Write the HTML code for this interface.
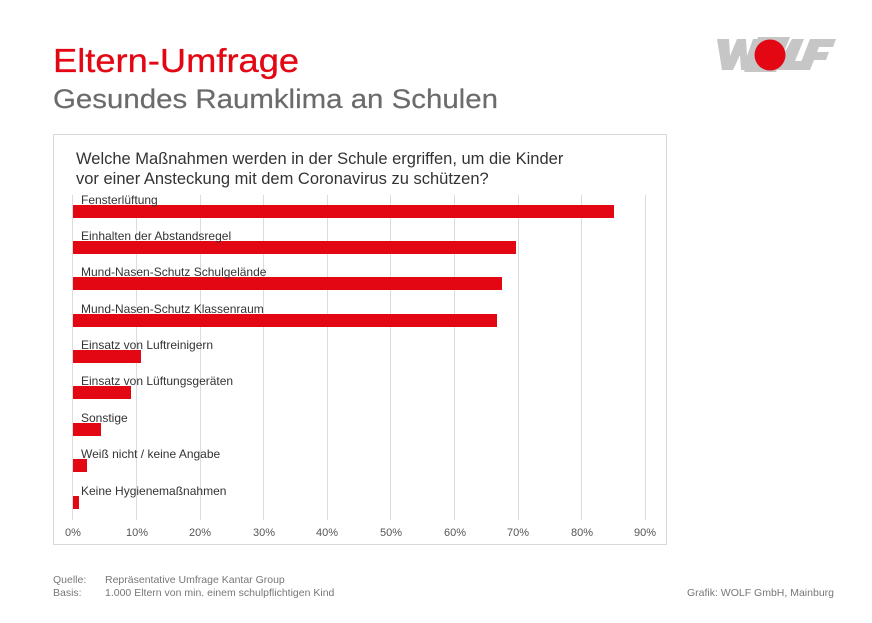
<!DOCTYPE html>
<html><head><meta charset="utf-8"><style>
body{margin:0;width:872px;height:623px;background:#fff;position:relative;overflow:hidden;font-family:"Liberation Sans",sans-serif}
.a{position:absolute;white-space:nowrap}
</style></head><body>
<div class="a" style="left:53px;top:42px;font-size:33px;color:#e30613;transform:scaleX(1.1);transform-origin:0 0;-webkit-text-stroke:0.3px #e30613">Eltern-Umfrage</div>
<div class="a" style="left:53px;top:84px;font-size:27px;color:#6b6b6b;transform:scaleX(1.09);transform-origin:0 0;-webkit-text-stroke:0.2px #6b6b6b">Gesundes Raumklima an Schulen</div>
<svg class="a" style="left:712px;top:34px" width="126" height="40" viewBox="0 0 126 40">
<path d="M5 5h12l1 17 7-17h9l1 17 6-17h11L40 36H29l-1-15-7 15H10z" fill="#c6c6c6"/>
<path d="M46 3h32l-14 35H32z" fill="#c6c6c6"/>
<path d="M80 5h12l-9 22h14l-4 9H63z" fill="#c6c6c6"/>
<path d="M98 5h26l-3 8h-14l-2 5h12l-3 8h-12l-4 10H86z" fill="#c6c6c6"/>
<circle cx="58" cy="21" r="15.5" fill="#e30613"/>
</svg>
<div class="a" style="left:53px;top:134px;width:614px;height:411px;border:1px solid #d8d8d8;box-sizing:border-box"></div>
<div class="a" style="left:76px;top:149px;font-size:16.5px;color:#333;line-height:20px">Welche Maßnahmen werden in der Schule ergriffen, um die Kinder<br>vor einer Ansteckung mit dem Coronavirus zu schützen?</div>
<svg class="a" style="left:0;top:0" width="872" height="623">
<g stroke="#dcdcdc" stroke-width="1">
<line x1="72.5" y1="195" x2="72.5" y2="520"/><line x1="136.5" y1="195" x2="136.5" y2="520"/><line x1="200.5" y1="195" x2="200.5" y2="520"/><line x1="263.5" y1="195" x2="263.5" y2="520"/><line x1="327.5" y1="195" x2="327.5" y2="520"/><line x1="390.5" y1="195" x2="390.5" y2="520"/><line x1="454.5" y1="195" x2="454.5" y2="520"/><line x1="518.5" y1="195" x2="518.5" y2="520"/><line x1="581.5" y1="195" x2="581.5" y2="520"/><line x1="645.5" y1="195" x2="645.5" y2="520"/>
</g>
<g fill="#e30613">
<rect x="73" y="205" width="541" height="13"/>
<rect x="73" y="241" width="443" height="13"/>
<rect x="73" y="277" width="429" height="13"/>
<rect x="73" y="314" width="424" height="13"/>
<rect x="73" y="350" width="68" height="13"/>
<rect x="73" y="386" width="58" height="13"/>
<rect x="73" y="423" width="28" height="13"/>
<rect x="73" y="459" width="14" height="13"/>
<rect x="73" y="496" width="6" height="13"/>
</g>
<g font-size="12" fill="#333" font-family="Liberation Sans,sans-serif">
<text x="81" y="204">Fensterlüftung</text>
<text x="81" y="240">Einhalten der Abstandsregel</text>
<text x="81" y="276">Mund-Nasen-Schutz Schulgelände</text>
<text x="81" y="313">Mund-Nasen-Schutz Klassenraum</text>
<text x="81" y="349">Einsatz von Luftreinigern</text>
<text x="81" y="385">Einsatz von Lüftungsgeräten</text>
<text x="81" y="422">Sonstige</text>
<text x="81" y="458">Weiß nicht / keine Angabe</text>
<text x="81" y="495">Keine Hygienemaßnahmen</text>
</g>
<g font-size="11" fill="#555" text-anchor="middle" font-family="Liberation Sans,sans-serif">
<text x="73" y="536">0%</text><text x="137" y="536">10%</text><text x="200" y="536">20%</text><text x="264" y="536">30%</text><text x="327" y="536">40%</text><text x="391" y="536">50%</text><text x="455" y="536">60%</text><text x="518" y="536">70%</text><text x="582" y="536">80%</text><text x="645" y="536">90%</text>
</g>
<g font-size="10.5" fill="#777" font-family="Liberation Sans,sans-serif">
<text x="53" y="583">Quelle:</text><text x="105" y="583">Repräsentative Umfrage Kantar Group</text>
<text x="53" y="596">Basis:</text><text x="105" y="596">1.000 Eltern von min. einem schulpflichtigen Kind</text>
<text x="834" y="596" text-anchor="end">Grafik: WOLF GmbH, Mainburg</text>
</g>
</svg>
</body></html>
